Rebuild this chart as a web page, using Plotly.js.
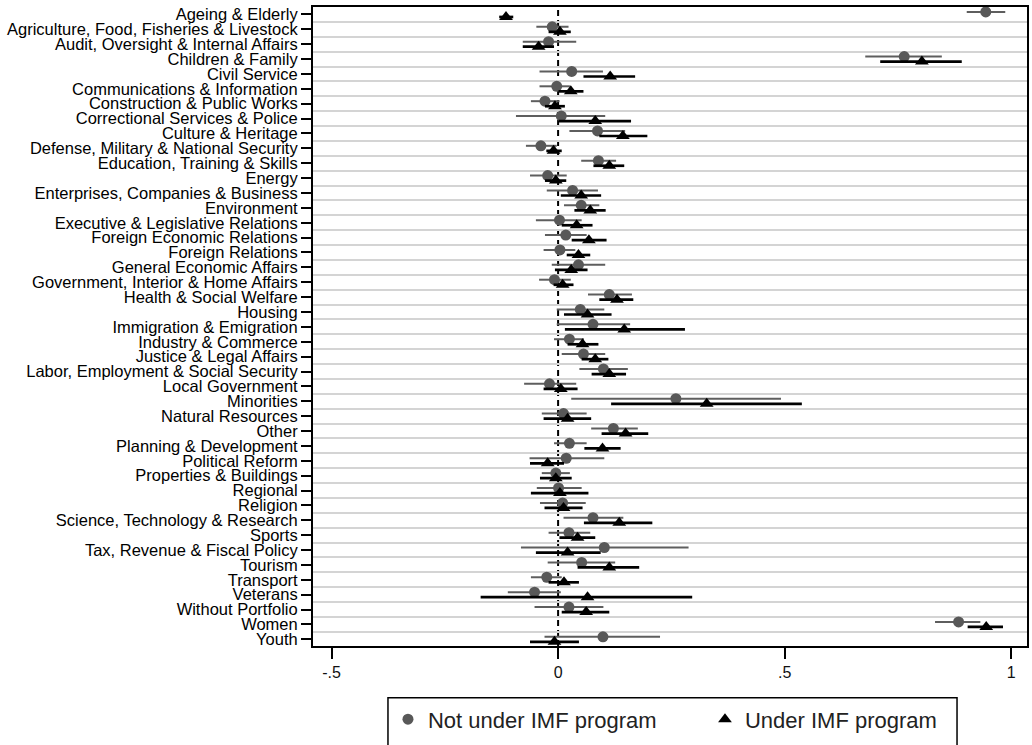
<!DOCTYPE html>
<html>
<head>
<meta charset="utf-8">
<script src="https://cdn.plot.ly/plotly-3.0.1.min.js"></script>
<style>html,body{margin:0;padding:0;background:#fff;}#chart{width:1032px;height:745px;}</style>
</head>
<body>
<div id="chart"></div>
<script>
const categories = [
  "Ageing & Elderly","Agriculture, Food, Fisheries & Livestock","Audit, Oversight & Internal Affairs",
  "Children & Family","Civil Service","Communications & Information","Construction & Public Works",
  "Correctional Services & Police","Culture & Heritage","Defense, Military & National Security",
  "Education, Training & Skills","Energy","Enterprises, Companies & Business","Environment",
  "Executive & Legislative Relations","Foreign Economic Relations","Foreign Relations",
  "General Economic Affairs","Government, Interior & Home Affairs","Health & Social Welfare",
  "Housing","Immigration & Emigration","Industry & Commerce","Justice & Legal Affairs",
  "Labor, Employment & Social Security","Local Government","Minorities","Natural Resources",
  "Other","Planning & Development","Political Reform","Properties & Buildings","Regional",
  "Religion","Science, Technology & Research","Sports","Tax, Revenue & Fiscal Policy","Tourism",
  "Transport","Veterans","Without Portfolio","Women","Youth"
];

// Not under IMF program: estimate, lower CI, upper CI
const notImf = [0.944,-0.013,-0.021,0.764,0.030,-0.003,-0.029,0.007,0.087,-0.038,
  0.089,-0.023,0.032,0.051,0.003,0.017,0.004,0.045,-0.008,0.113,
  0.049,0.077,0.025,0.056,0.100,-0.019,0.260,0.012,0.122,0.025,
  0.018,-0.005,0.001,0.010,0.077,0.024,0.102,0.052,-0.025,-0.052,
  0.024,0.884,0.099];
const notImfLo = [0.902,-0.048,-0.078,0.678,-0.041,-0.041,-0.060,-0.093,0.025,-0.071,
  0.051,-0.062,-0.025,0.013,-0.049,-0.029,-0.032,-0.014,-0.042,0.066,
  -0.003,-0.003,-0.009,0.008,0.047,-0.075,0.029,-0.036,0.073,-0.009,
  -0.063,-0.036,-0.047,-0.040,0.012,-0.021,-0.082,-0.023,-0.060,-0.111,
  -0.052,0.832,-0.030];
const notImfHi = [0.987,0.023,0.040,0.847,0.099,0.026,0.003,0.104,0.148,-0.003,
  0.128,0.019,0.088,0.091,0.052,0.063,0.038,0.104,0.028,0.163,
  0.102,0.159,0.057,0.104,0.154,0.040,0.492,0.063,0.176,0.063,
  0.102,0.026,0.052,0.061,0.144,0.071,0.288,0.126,0.008,0.006,
  0.100,0.932,0.225];

// Under IMF program: estimate, lower CI, upper CI
const imf = [-0.115,0.004,-0.043,0.803,0.115,0.028,-0.007,0.082,0.143,-0.010,
  0.113,-0.005,0.051,0.071,0.041,0.068,0.045,0.029,0.010,0.130,
  0.065,0.146,0.054,0.082,0.113,0.006,0.328,0.021,0.149,0.098,
  -0.023,-0.005,0.004,0.012,0.135,0.043,0.021,0.113,0.013,0.065,
  0.062,0.945,-0.008];
const imfLo = [-0.130,-0.021,-0.078,0.711,0.056,0.001,-0.029,0.001,0.091,-0.026,
  0.078,-0.029,0.006,0.036,0.008,0.030,0.019,-0.007,-0.010,0.091,
  0.013,0.015,0.021,0.052,0.074,-0.032,0.117,-0.032,0.096,0.058,
  -0.062,-0.040,-0.060,-0.030,0.057,0.003,-0.049,0.043,-0.021,-0.171,
  0.008,0.904,-0.062];
const imfHi = [-0.099,0.028,-0.009,0.891,0.170,0.056,0.015,0.161,0.197,0.008,
  0.146,0.018,0.095,0.105,0.076,0.107,0.071,0.065,0.034,0.166,
  0.118,0.280,0.089,0.111,0.150,0.043,0.538,0.073,0.199,0.138,
  0.013,0.030,0.067,0.054,0.208,0.082,0.094,0.179,0.046,0.296,
  0.113,0.982,0.046];

const xTickVals = [-0.5, 0, 0.5, 1];
const xTickText = ["-.5", "0", ".5", "1"];
const seriesNames = ["Not under IMF program", "Under IMF program"];

const pos = categories.map((c, i) => i + 1);
const off = 0.17;
const FONT = "Liberation Sans, Arial, sans-serif";

const traces = [
  {
    type: "scatter", mode: "markers", name: seriesNames[0],
    x: notImf, y: pos.map(p => p - off),
    marker: {symbol: "circle", size: 11, color: "#585858"},
    error_x: {type: "data", symmetric: false,
      array: notImf.map((v, i) => notImfHi[i] - v),
      arrayminus: notImf.map((v, i) => v - notImfLo[i]),
      color: "#5e5e5e", thickness: 2, width: 0},
    hoverinfo: "x"
  },
  {
    type: "scatter", mode: "markers", name: seriesNames[1],
    x: imf, y: pos.map(p => p + off),
    marker: {symbol: "triangle-up", size: 12, color: "#000000"},
    error_x: {type: "data", symmetric: false,
      array: imf.map((v, i) => imfHi[i] - v),
      arrayminus: imf.map((v, i) => v - imfLo[i]),
      color: "#000000", thickness: 2.7, width: 0},
    hoverinfo: "x"
  }
];

const layout = {
  width: 1032, height: 745, autosize: false,
  paper_bgcolor: "#ffffff", plot_bgcolor: "#ffffff",
  margin: {l: 313, r: 5, t: 7, b: 97, pad: 0},
  font: {family: FONT, color: "#000"},
  showlegend: true,
  xaxis: {
    range: [-0.541, 1.035], tickmode: "array", tickvals: xTickVals, ticktext: xTickText,
    showgrid: false, zeroline: false,
    showline: true, linecolor: "#000", linewidth: 2, mirror: true,
    ticks: "outside", ticklen: 11, tickwidth: 2, tickcolor: "#000",
    tickfont: {size: 16, family: FONT, color: "#111"}, automargin: false
  },
  yaxis: {
    range: [43.45, 0.5], tickmode: "array", tickvals: pos, ticktext: categories,
    showgrid: false, zeroline: false,
    showline: true, linecolor: "#000", linewidth: 2, mirror: true,
    ticks: "outside", ticklen: 10, tickwidth: 2, tickcolor: "#000",
    tickfont: {size: 16.5, family: FONT, color: "#000"}, automargin: false,
    minor: {tick0: 0.5, dtick: 1, showgrid: true, gridcolor: "#d4d4d4", gridwidth: 2, ticks: ""}
  },
  legend: {
    orientation: "h", x: 0.105, xanchor: "left", y: -0.082, yanchor: "top",
    entrywidth: 272, entrywidthmode: "pixels",
    borderwidth: 0, bgcolor: "rgba(0,0,0,0)",
    font: {size: 22, family: FONT, color: "#222"}
  },
  shapes: [
    {type: "line", xref: "x", yref: "paper", x0: 0, x1: 0, y0: 0, y1: 1,
     line: {color: "#000", width: 2, dash: "6px,4px"}, layer: "between"},
    {type: "rect", xref: "paper", yref: "paper", x0: 0.105, x1: 0.902, y0: -0.0811, y1: -0.18,
     line: {color: "#000", width: 1.5}, fillcolor: "rgba(0,0,0,0)", layer: "above"}
  ]
};

Plotly.newPlot("chart", traces, layout, {displayModeBar: false, staticPlot: true});
</script>
</body>
</html>
